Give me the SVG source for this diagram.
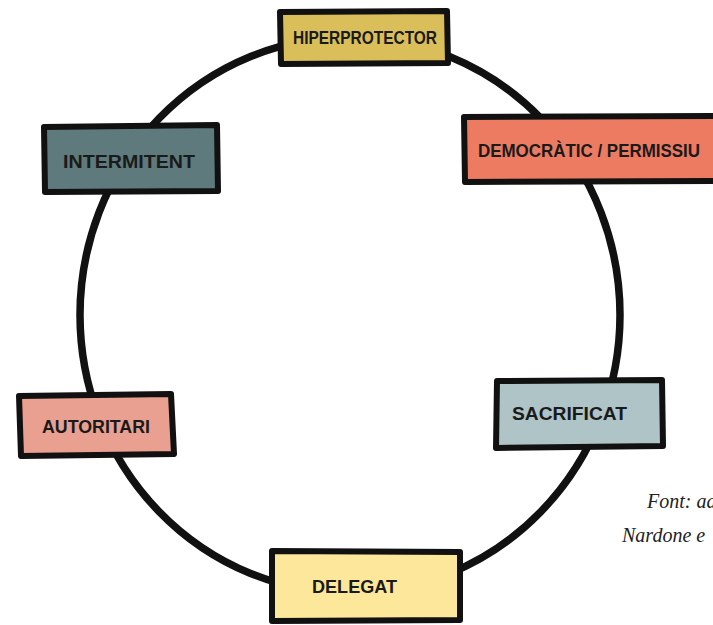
<svg xmlns="http://www.w3.org/2000/svg" width="713" height="625" viewBox="0 0 713 625">
<style>
.box{stroke:#111;stroke-width:6;stroke-linejoin:round}
.lbl{font-family:"Liberation Sans","DejaVu Sans",sans-serif;font-weight:bold;font-size:19px;fill:#1a1a1a}
.note{font-family:"Liberation Serif","DejaVu Serif",serif;font-style:italic;font-size:20px;fill:#222}
</style>
<rect width="713" height="625" fill="#ffffff"/>
<g id="connectors">
<ellipse cx="350" cy="315" rx="270" ry="278" fill="none" stroke="#111" stroke-width="7.5"/>
</g>
<g id="hiperprotector">
<path class="box" d="M280 12 L447 11 L448 63 L281 64 Z" fill="#D9BE5A"/>
<text class="lbl" x="293" y="44" textLength="144" lengthAdjust="spacingAndGlyphs">HIPERPROTECTOR</text>
</g>
<g id="democratic">
<path class="box" d="M464 117 L722 116 L722 181 L465 182 Z" fill="#EC7B62"/>
<text class="lbl" x="478" y="157" textLength="222" lengthAdjust="spacingAndGlyphs">DEMOCRÀTIC / PERMISSIU</text>
</g>
<g id="intermitent">
<path class="box" d="M44 127 L217 125 L218 191 L45 192 Z" fill="#5E7A7C"/>
<text class="lbl" x="63" y="168" textLength="132" lengthAdjust="spacingAndGlyphs">INTERMITENT</text>
</g>
<g id="autoritari">
<path class="box" d="M19 396 L171 394 L174 454 L21 456 Z" fill="#E9A090"/>
<text class="lbl" x="42" y="433" textLength="108" lengthAdjust="spacingAndGlyphs">AUTORITARI</text>
</g>
<g id="sacrificat">
<path class="box" d="M497 381 L662 380 L663 446 L496 448 Z" fill="#AFC4C6"/>
<text class="lbl" x="512" y="420" textLength="115" lengthAdjust="spacingAndGlyphs">SACRIFICAT</text>
</g>
<g id="delegat">
<path class="box" d="M272 551 L460 552 L460 620 L272 621 Z" fill="#FCE79A"/>
<text class="lbl" x="312" y="593" textLength="85" lengthAdjust="spacingAndGlyphs">DELEGAT</text>
</g>
<g id="source">
<text class="note" x="647" y="508">Font: ad</text>
<text class="note" x="622" y="542">Nardone e</text>
</g>
</svg>
